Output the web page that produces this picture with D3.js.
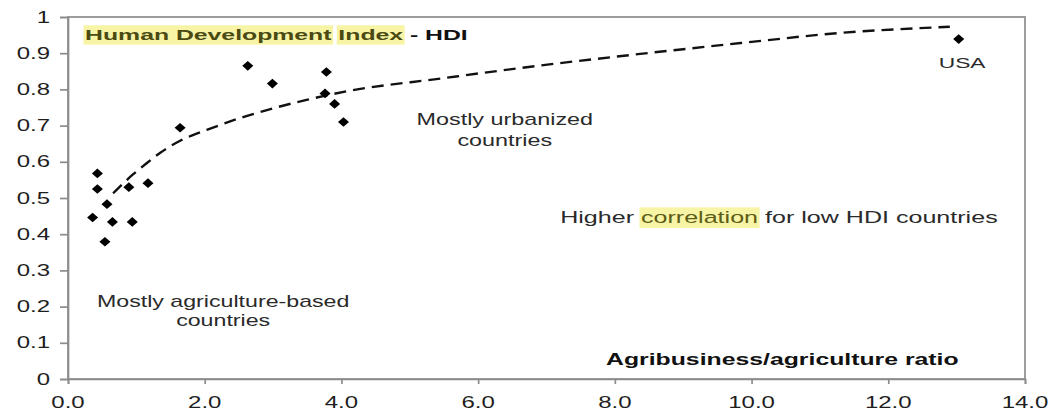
<!DOCTYPE html>
<html>
<head>
<meta charset="utf-8">
<script src="https://cdn.jsdelivr.net/npm/d3@7"></script>
<style>
  html, body { margin: 0; padding: 0; background: #fff; }
  svg { display: block; }
  text { font-family: "Liberation Sans", Arial, Helvetica, sans-serif; }
</style>
</head>
<body>
<svg id="chart" width="1052" height="413"></svg>
<script>
// ---- data ----
const ratio = [2.63, 2.99, 3.78, 3.76, 3.90, 4.03, 1.64, 0.43, 0.43, 0.89, 1.17, 0.57, 0.36, 0.65, 0.94, 0.54, 13.03];
const hdi   = [0.865, 0.816, 0.848, 0.789, 0.760, 0.710, 0.694, 0.568, 0.525, 0.530, 0.541, 0.483, 0.446, 0.434, 0.434, 0.379, 0.939];
const trendX = [0.66, 0.95, 1.15, 1.35, 1.64, 2.03, 2.52, 2.91, 3.49, 4.08, 5.45, 6.91, 8.37, 9.84, 11.3, 12.9];
const trendY = [0.513, 0.565, 0.596, 0.625, 0.658, 0.688, 0.721, 0.743, 0.771, 0.795, 0.830, 0.866, 0.898, 0.928, 0.956, 0.973];
const xTicks = [0, 2, 4, 6, 8, 10, 12, 14];
const xTickLabels = ["0.0", "2.0", "4.0", "6.0", "8.0", "10.0", "12.0", "14.0"];
const yTicks = [0, 0.1, 0.2, 0.3, 0.4, 0.5, 0.6, 0.7, 0.8, 0.9, 1];
const yTickLabels = ["0", "0.1", "0.2", "0.3", "0.4", "0.5", "0.6", "0.7", "0.8", "0.9", "1"];
const titleParts = ["Human Development", " ", "Index", " - HDI"];
const xAxisTitle = "Agribusiness/agriculture ratio";
const urbanLines = ["Mostly urbanized", "countries"];
const agriLines = ["Mostly agriculture-based", "countries"];
const corrParts = ["Higher ", "correlation", " for low HDI countries"];
const usaLabel = "USA";

// ---- layout ----
const svg = d3.select("#chart");
const L = 68, R = 1025, T = 17, B = 379;
const x = d3.scaleLinear().domain([0, 14]).range([L, R]);
const y = d3.scaleLinear().domain([0, 1]).range([B, T]);
const axisColor = "#8c8c8c";
const HL = "#f7f4a6";
const TXT = "#2a2a2a";

// helper: horizontally stretched text with optional highlighted parts
function stretchedText(parent, px, py, anchor, size, weight, parts, sx) {
  const g = parent.append("g").attr("transform", `translate(${px},${py})`);
  const inner = g.append("g").attr("transform", `scale(${sx},1)`);
  const t = inner.append("text")
    .attr("font-size", size).attr("font-weight", weight)
    .attr("xml:space", "preserve");
  parts.forEach(p => {
    t.append("tspan").text(p.t).attr("fill", p.fill || TXT);
  });
  const w = t.node().getComputedTextLength();
  const off = anchor === "middle" ? -w / 2 : anchor === "end" ? -w : 0;
  t.attr("x", off);
  let idx = 0;
  parts.forEach(p => {
    if (p.hl) {
      const node = t.node();
      const start = idx > 0 ? node.getSubStringLength(0, idx) : 0;
      const len = node.getSubStringLength(idx, p.t.length);
      inner.insert("rect", "text")
        .attr("x", off + start - 1).attr("y", -size * 0.95)
        .attr("width", len + 2).attr("height", size * 1.25)
        .attr("fill", HL);
    }
    idx += p.t.length;
  });
  return g;
}

// ---- frame ----
svg.append("rect")
  .attr("x", L).attr("y", T).attr("width", R - L).attr("height", B - T)
  .attr("fill", "none").attr("stroke", axisColor).attr("stroke-width", 1.7);

// ---- axes ----
const yAxis = d3.axisLeft(y).tickValues(yTicks).tickSize(8).tickFormat("");
const gy = svg.append("g").attr("transform", `translate(${L},0)`).call(yAxis);
gy.selectAll("path,line").attr("stroke", axisColor).attr("stroke-width", 1.7);

const xAxis = d3.axisBottom(x).tickValues(xTicks).tickSize(5).tickFormat("");
const gx = svg.append("g").attr("transform", `translate(0,${B})`).call(xAxis);
gx.selectAll("path,line").attr("stroke", axisColor).attr("stroke-width", 1.7);

yTicks.forEach((v, i) => {
  stretchedText(svg, 50, y(v) + 5.6, "end", 16, "normal", [{t: yTickLabels[i], fill: "#1e1e1e"}], 1.5);
});
xTicks.forEach((v, i) => {
  stretchedText(svg, x(v), 408, "middle", 16, "normal", [{t: xTickLabels[i], fill: "#1e1e1e"}], 1.5);
});

// ---- trend line ----
const trend = trendX.map((v, i) => [v, trendY[i]]);
svg.append("path")
  .datum(trend)
  .attr("d", d3.line().x(d => x(d[0])).y(d => y(d[1])).curve(d3.curveMonotoneX))
  .attr("fill", "none").attr("stroke", "#111").attr("stroke-width", 2.4)
  .attr("stroke-dasharray", "12,7");

// ---- points ----
const diamond = d3.symbol().type(d3.symbolSquare).size(46);
svg.append("g").selectAll("path")
  .data(ratio.map((v, i) => [v, hdi[i]]))
  .join("path")
  .attr("d", diamond)
  .attr("transform", d => `translate(${x(d[0])},${y(d[1])}) scale(1.15,1) rotate(45)`)
  .attr("fill", "#000");

// ---- texts ----
stretchedText(svg, x(0.25), 40, "start", 15.5, "bold", [
  {t: titleParts[0], fill: "#4a4a12", hl: true},
  {t: titleParts[1], fill: "#4a4a12"},
  {t: titleParts[2], fill: "#4a4a12", hl: true},
  {t: titleParts[3], fill: "#111"}
], 1.6);

stretchedText(svg, x(6.39), 125, "middle", 16, "normal", [{t: urbanLines[0]}], 1.46);
stretchedText(svg, x(6.39), 146, "middle", 16, "normal", [{t: urbanLines[1]}], 1.46);

stretchedText(svg, x(10.40), 223, "middle", 16.5, "normal", [
  {t: corrParts[0]},
  {t: corrParts[1], fill: "#5c5c16", hl: true},
  {t: corrParts[2]}
], 1.52);

stretchedText(svg, x(2.27), 307, "middle", 16, "normal", [{t: agriLines[0]}], 1.45);
stretchedText(svg, x(2.27), 326, "middle", 16, "normal", [{t: agriLines[1]}], 1.45);

stretchedText(svg, x(13.08), 68, "middle", 15, "normal", [{t: usaLabel}], 1.52);

stretchedText(svg, x(10.45), 365, "middle", 16, "bold", [{t: xAxisTitle, fill: "#111"}], 1.55);
</script>
</body>
</html>
